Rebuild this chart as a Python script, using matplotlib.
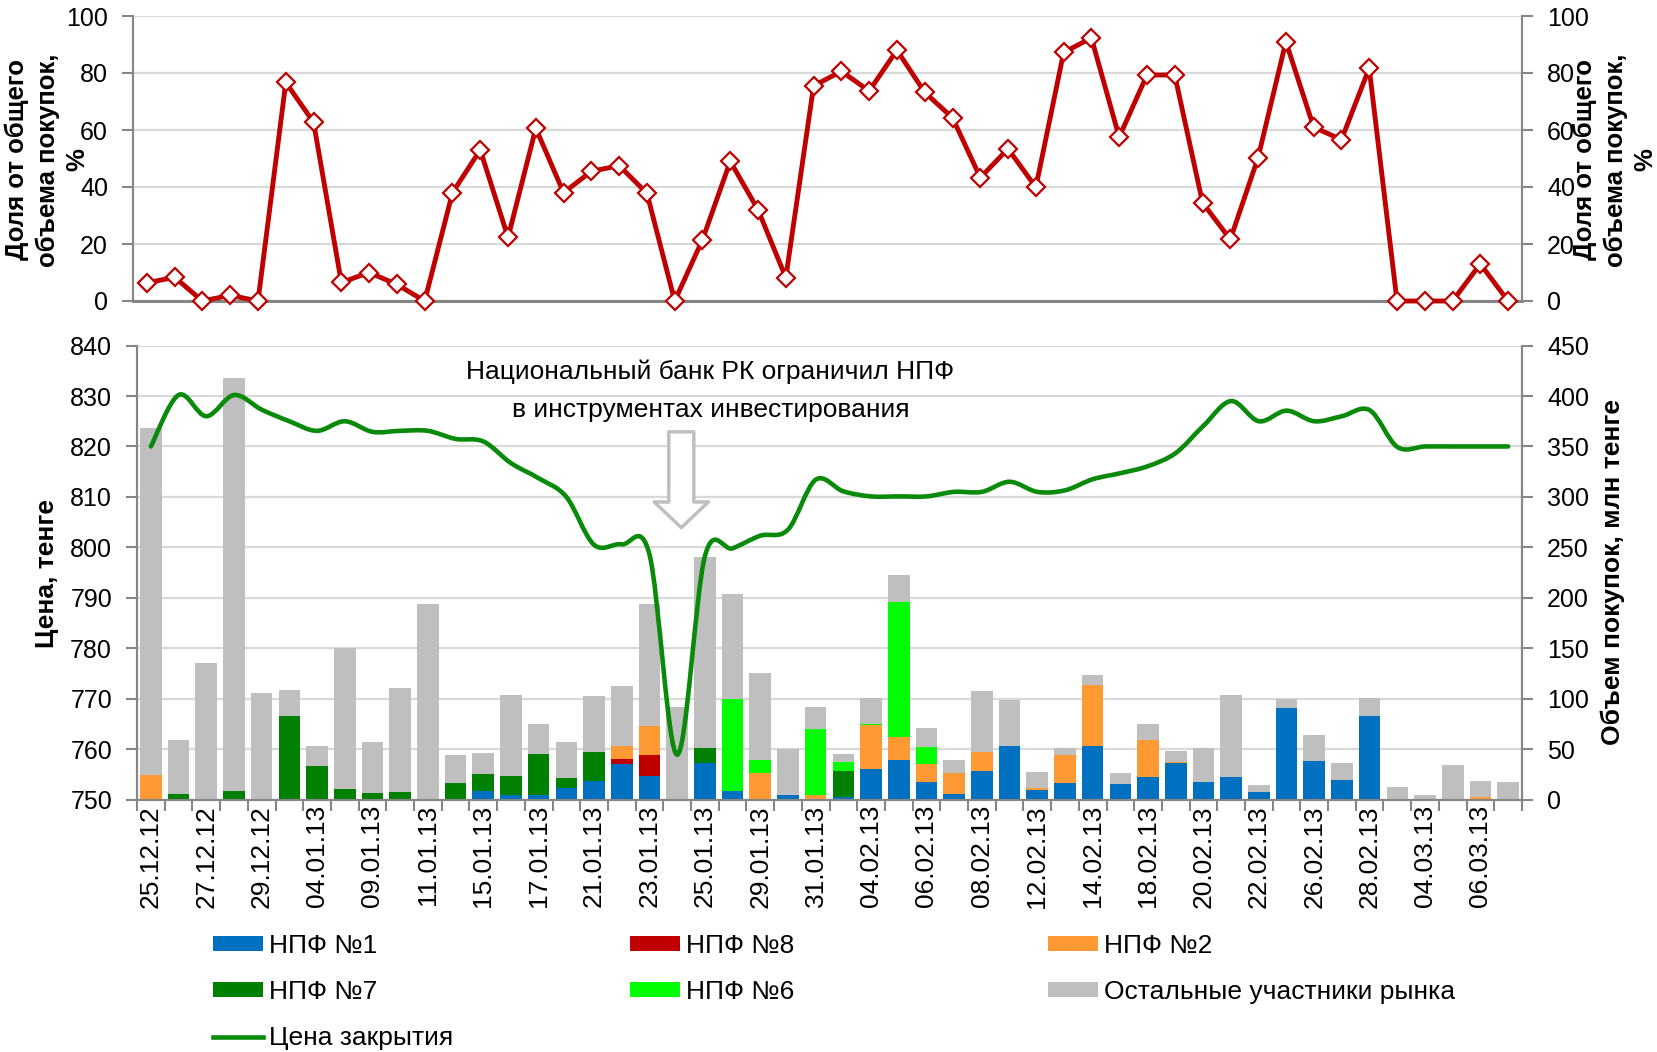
import numpy as np
import matplotlib
matplotlib.use('Agg')
import matplotlib.pyplot as plt
from matplotlib.path import Path
from matplotlib.patches import PathPatch, FancyArrowPatch, Patch
from matplotlib.lines import Line2D

plt.rcParams['font.family'] = ['Liberation Sans', 'DejaVu Sans']

# ---- data ----
dates = ['25.12.12', '26.12.12', '27.12.12', '28.12.12', '29.12.12', '03.01.13', '04.01.13',
         '08.01.13', '09.01.13', '10.01.13', '11.01.13', '14.01.13', '15.01.13', '16.01.13',
         '17.01.13', '18.01.13', '21.01.13', '22.01.13', '23.01.13', '24.01.13', '25.01.13',
         '28.01.13', '29.01.13', '30.01.13', '31.01.13', '01.02.13', '04.02.13', '05.02.13',
         '06.02.13', '07.02.13', '08.02.13', '11.02.13', '12.02.13', '13.02.13', '14.02.13',
         '15.02.13', '18.02.13', '19.02.13', '20.02.13', '21.02.13', '22.02.13', '25.02.13',
         '26.02.13', '27.02.13', '28.02.13', '01.03.13', '04.03.13', '05.03.13', '06.03.13',
         '07.03.13']

# share of pension funds in total purchases, %
share = [6.4, 8.3, 0, 2, 0, 76.7, 62.7, 6.5, 10, 5.8,
         0, 38, 53, 22.3, 60.6, 38, 45.5, 47.5, 37.8, 0,
         21.5, 49, 32, 8.2, 75.5, 80.6, 73.7, 88, 73.2, 64.3,
         43.3, 53.4, 39.9, 87.2, 92.3, 57.5, 79.3, 79.3, 34.5, 21.6,
         50.3, 91, 61, 56.6, 81.7, 0, 0, 0, 13, 0]

# purchase volumes, mln tenge
npf1 = [0, 0, 0, 0, 0, 0, 0, 0, 0, 0,
        0, 0, 8, 4.6, 4.6, 11.6, 18.5, 35, 23, 0,
        35.7, 8.3, 0, 4, 0, 2.6, 30.7, 39, 17.2, 5,
        28.7, 52.8, 9.2, 16.2, 52.8, 14.9, 22.8, 35.7, 17.8, 22.5,
        7.3, 90.8, 38.6, 19.8, 82.6, 0, 0, 0, 0, 0]
npf8 = [0, 0, 0, 0, 0, 0, 0, 0, 0, 0,
        0, 0, 0, 0, 0, 0, 0, 5, 21.6, 0,
        0, 0, 0, 0, 0, 0, 0, 0, 0, 0,
        0, 0, 0, 0, 0, 0, 0, 0, 0, 0,
        0, 0, 0, 0, 0, 0, 0, 0, 0, 0]
npf2 = [24, 0, 0, 0, 0, 0, 0, 0, 0, 0,
        0, 0, 0, 0, 0, 0, 0, 13.5, 28, 0,
        0, 0, 26.4, 0, 4, 0, 43.3, 23, 18, 21.4,
        18.3, 0, 1.8, 28.4, 61.2, 0, 36.6, 1.6, 0, 0,
        0, 0, 0, 0, 0, 0, 0, 0, 2, 0]
npf7 = [0, 5, 0, 8, 0, 83, 33, 10, 6, 7,
        0, 16.5, 17, 18.4, 41, 10, 28.5, 0, 0, 0,
        15.8, 0, 0, 0, 0, 26, 0, 0, 0, 0,
        0, 0, 0, 0, 0, 0, 0, 0, 0, 0,
        0, 0, 0, 0, 0, 0, 0, 0, 0, 0]
npf6 = [0, 0, 0, 0, 0, 0, 0, 0, 0, 0,
        0, 0, 0, 0, 0, 0, 0, 0, 0, 0,
        0, 91.7, 13.2, 0, 65.4, 8.3, 1, 134, 17.2, 0,
        0, 0, 0, 0, 0, 0, 0, 0, 0, 0,
        0, 0, 0, 0, 0, 0, 0, 0, 0, 0]
others = [344, 54, 135, 410, 106, 26, 20, 140, 51, 104,
          194, 27.5, 21, 81, 29.4, 35.5, 56, 59.5, 121, 91.5,
          188.5, 104, 85.4, 46.5, 22, 8.6, 26, 26.6, 18.8, 13.2,
          61, 45.9, 16.4, 6.4, 9, 11.5, 15.9, 10.7, 33.2, 81.2,
          6.6, 8.6, 25.4, 15.9, 18.4, 12.5, 4.6, 34.3, 16, 17]

# closing price, tenge
price = [820, 830.2, 826, 830.2, 827.3, 825, 823.1, 825, 822.9, 823.1,
         823.1, 821.5, 821, 816.7, 813.7, 810, 800.5, 800.6, 798.6, 758.9,
         798.2, 799.8, 802.3, 803.5, 813.4, 811.1, 810.1, 810.1, 810.1, 811,
         811, 813, 811, 811.3, 813.5, 814.7, 816.1, 818.7, 824.1, 829,
         825, 827.1, 825, 826, 827.2, 819.9, 820, 820, 820, 820]

series = [('НПФ №1', npf1, '#0070C0'), ('НПФ №8', npf8, '#C00000'),
          ('НПФ №2', npf2, '#FF9933'), ('НПФ №7', npf7, '#008000'),
          ('НПФ №6', npf6, '#00FF00'), ('Остальные участники рынка', others, '#BFBFBF')]

red = '#C00000'
line_green = '#0A8A0A'
grid_c = '#D9D9D9'
spine_c = '#868686'
FS = 18

W, H = 1657, 1052
fig = plt.figure(figsize=(W / 100, H / 100), dpi=100)


def box(l, t, r, b):
    return [l / W, 1 - b / H, (r - l) / W, (b - t) / H]


def style_spines(a):
    a.spines['top'].set_visible(False)
    for s in ['left', 'right', 'bottom']:
        a.spines[s].set_color(spine_c)
        a.spines[s].set_linewidth(1.5)


x = np.arange(len(dates))

# ---- top chart: share ----
ax = fig.add_axes(box(133, 16, 1522, 301))
ax.plot(x, share, color=red, lw=3.5, marker='D', ms=9, mfc='white', mec=red, mew=1.6,
        zorder=3, clip_on=False)
ax.set_xlim(-0.5, len(dates) - 0.5)
ax.set_ylim(0, 100)
ax.set_yticks(range(0, 101, 20))
ax.set_xticks([])
ax.grid(axis='y', color=grid_c, lw=1.6)
ax.set_axisbelow(True)
style_spines(ax)
ax.spines['bottom'].set_linewidth(2.2)
ax.tick_params(axis='y', which='both', left=True, right=True, labelleft=True, labelright=True,
               length=8, width=1.5, color=spine_c, labelsize=FS, pad=10)

lab_top = 'Доля от общего\nобъема покупок,\n%'
fig.text(47 / W, 1 - 160 / H, lab_top, rotation=90, ha='center', va='center',
         fontsize=18.5, fontweight='bold', linespacing=1.33)
fig.text(1615 / W, 1 - 160 / H, lab_top, rotation=90, ha='center', va='center',
         fontsize=18.5, fontweight='bold', linespacing=1.33)

# ---- bottom chart: volumes (right axis) and price (left axis) ----
axv = fig.add_axes(box(137, 345.6, 1522, 799.5))
bottom = np.zeros(len(dates))
handles = {}
for name, vals, col in series:
    axv.bar(x, vals, width=0.78, bottom=bottom, color=col, zorder=2)
    bottom += np.array(vals)
    handles[name] = Patch(facecolor=col)
axv.set_xlim(-0.5, len(dates) - 0.5)
axv.set_ylim(0, 450)
axv.set_yticks(range(0, 451, 50))
axv.grid(axis='y', color=grid_c, lw=1.6, zorder=0)
axv.set_axisbelow(True)
axv.set_xticks(x[::2])
axv.set_xticklabels(dates[::2], rotation=90, fontsize=19)
axv.set_xticks(np.arange(-0.5, len(dates), 1), minor=True)
axv.tick_params(axis='x', which='major', length=0, pad=4)
axv.tick_params(axis='x', which='minor', length=8, width=1.5, color=spine_c)
style_spines(axv)

axp = axv.twinx()
axp.set_ylim(750, 840)
axp.set_yticks(range(750, 841, 10))
style_spines(axp)
# twinx moves the parent's ticks to the left, so set the sides afterwards
axv.yaxis.tick_right()
axp.yaxis.tick_left()
axv.tick_params(axis='y', length=8, width=1.5, color=spine_c, labelsize=FS, pad=10)
axp.tick_params(axis='y', length=8, width=1.5, color=spine_c, labelsize=FS, pad=10)

# smoothed closing price (cubic Bezier through the points)
pts = np.column_stack([x, price]).astype(float)
verts = [pts[0]]
codes = [Path.MOVETO]
n = len(pts)
for i in range(n - 1):
    p0 = pts[i - 1] if i > 0 else pts[i]
    p1, p2 = pts[i], pts[i + 1]
    p3 = pts[i + 2] if i + 2 < n else pts[i + 1]
    verts += [p1 + (p2 - p0) / 6, p2 - (p3 - p1) / 6, p2]
    codes += [Path.CURVE4] * 3
axp.add_patch(PathPatch(Path(verts, codes), fill=False, edgecolor=line_green, lw=3.3,
                        capstyle='round', zorder=4))

axp.text(20.2, 834.8, 'Национальный банк РК ограничил НПФ', ha='center', va='center', fontsize=19)
axp.text(20.2, 827.3, 'в инструментах инвестирования', ha='center', va='center', fontsize=19)
arrow = FancyArrowPatch((19.15, 822.9), (19.15, 803.9),
                        arrowstyle='simple,head_length=18.5,head_width=39,tail_width=18',
                        mutation_scale=1, shrinkA=0, shrinkB=0,
                        facecolor='white', edgecolor='#BFBFBF', lw=2.5, zorder=5)
axp.add_patch(arrow)

fig.text(47 / W, 1 - 574 / H, 'Цена, тенге', rotation=90, ha='center', va='center',
         fontsize=19, fontweight='bold')
fig.text(1613 / W, 1 - 572 / H, 'Объем покупок, млн тенге', rotation=90, ha='center',
         va='center', fontsize=19, fontweight='bold')

# ---- legend in three columns ----
handles['Цена закрытия'] = Line2D([], [], color=line_green, lw=3.3)
cols = [(['НПФ №1', 'НПФ №7', 'Цена закрытия'], 213),
        (['НПФ №8', 'НПФ №6'], 630),
        (['НПФ №2', 'Остальные участники рынка'], 1048)]
for names, xpos in cols:
    fig.legend([handles[k] for k in names], names, loc='upper left',
               bbox_to_anchor=(xpos / W, 1 - 934 / H), bbox_transform=fig.transFigure,
               frameon=False, fontsize=19, handlelength=1.9, handleheight=0.5,
               handletextpad=0.22, labelspacing=0.84, borderpad=0, borderaxespad=0)

fig.savefig('out.png', dpi=100, facecolor='white')
